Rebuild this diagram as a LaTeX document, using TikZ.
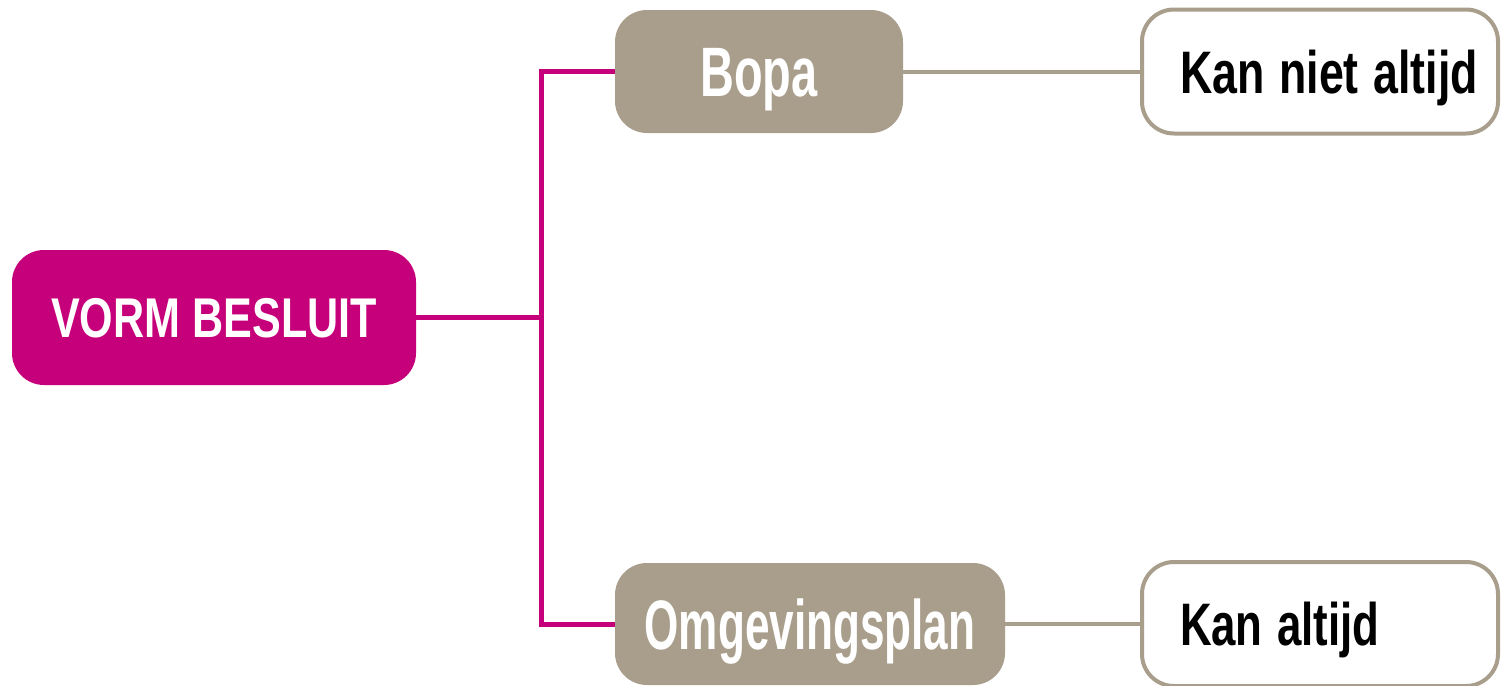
\documentclass[tikz,border=0pt]{standalone}
\usepackage{fontspec}
\setmainfont{Liberation Sans}
\usepackage{graphicx}
\definecolor{mag}{HTML}{C6007A}
\definecolor{tanc}{HTML}{A89E8B}
\tikzset{
  magbox/.style={fill=mag, rounded corners=16pt, text=white, inner sep=0pt,
    font=\fontsize{28}{30}\selectfont\bfseries, text height=20pt, text depth=0pt},
  greybox/.style={fill=tanc, rounded corners=16pt, text=white, inner sep=0pt,
    font=\fontsize{35}{36}\selectfont\bfseries, text height=25pt, text depth=0pt},
  kanbox/.style={draw=tanc, line width=2pt, fill=white, rounded corners=16pt, text=black,
    font=\fontsize{30}{32}\selectfont\bfseries, inner xsep=19pt, inner ysep=0pt,
    text width=140pt, align=left, text height=21.5pt, text depth=0pt, minimum height=62pt},
  magline/.style={draw=mag, line width=2.5pt},
  tanline/.style={draw=tanc, line width=2pt}
}
\begin{document}
\begin{tikzpicture}[x=0.5pt,y=-0.5pt]
\useasboundingbox (0,0) rectangle (1501,686);
\node[magbox, minimum width=202pt, minimum height=67.5pt] (vb) at (214,317.5) {\scalebox{0.77}[1]{VORM BESLUIT}};
\node[greybox, minimum width=144pt, minimum height=61.5pt] (bopa) at (759,71.5) {\scalebox{0.67}[1]{Bopa}};
\node[greybox, minimum width=195pt, minimum height=61pt] (omg) at (810,624) {\scalebox{0.63}[1]{Omgevingsplan}};
\node[kanbox] (kn) at (1320,71.5) {\scalebox{0.745}[1]{Kan niet altijd}};
\node[kanbox] (ka) at (1320,624) {\scalebox{0.73}[1]{Kan altijd}};
\coordinate (j) at (541,317.5);
\draw[magline] (vb.east) -- (j);
\draw[magline] (bopa.west) -| (j) |- (omg.west);
\draw[tanline] (bopa.east) -- (kn.west);
\draw[tanline] (omg.east) -- (ka.west);
\end{tikzpicture}
\end{document}
